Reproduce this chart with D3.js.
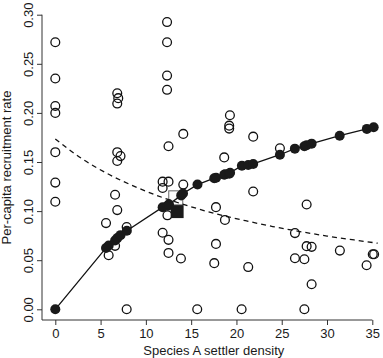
<!DOCTYPE html>
<html>
<head>
<meta charset="utf-8">
<script src="https://cdn.jsdelivr.net/npm/d3@7"></script>
<style>
  body { margin: 0; background: #fff; }
  svg text { font-family: "Liberation Sans", Arial, sans-serif; fill: #1a1a1a; }
</style>
</head>
<body>
<div id="chart"></div>
<script>
let w = 383; let h = 358;

// observed per-capita recruitment (open circles)
let obsX = [0, 0, 0, 0, 0, 0, 0,
  5.6, 5.89, 6.6, 6.6, 6.84, 6.84, 6.84, 6.84, 6.84, 6.95, 7.2, 7.88, 7.88,
  11.85, 11.85, 11.85, 12.34, 12.34, 12.34, 12.34, 12.38, 12.5, 12.5, 12.5, 12.5,
  13.87, 14.13, 14.13, 15.67, 17.55, 17.74, 17.74, 18.65, 18.73, 19.2, 19.2, 19.28,
  20.57, 21.3, 21.85, 21.85, 24.8, 26.46, 26.46, 27.5, 27.5, 27.75, 27.75,
  28.3, 28.3, 31.42, 34.37, 35.05, 35.2];
let obsY = [0.272, 0.235, 0.207, 0.200, 0.160, 0.129, 0.1095,
  0.0878, 0.055, 0.1166, 0.0646, 0.220, 0.2095, 0.160, 0.151, 0.101, 0.215, 0.156, 0.0837, 0.0,
  0.130, 0.1235, 0.078, 0.2925, 0.272, 0.238, 0.2235, 0.0957, 0.166, 0.130, 0.0707, 0.0574,
  0.0517, 0.1786, 0.127, 0.0, 0.047, 0.104, 0.0666, 0.1547, 0.091, 0.187, 0.184, 0.1976,
  0.0, 0.043, 0.1758, 0.120, 0.164, 0.0776, 0.052, 0.051, 0.0, 0.1067, 0.0643,
  0.0636, 0.0255, 0.0598, 0.0449, 0.0561, 0.0561];

// fitted values (filled points, joined by the solid line)
let fitX = [0, 5.6, 5.9, 6.6, 6.85, 7.2, 7.9, 11.85, 12.4, 12.55, 13.9, 14.1, 15.7,
  17.55, 17.75, 18.65, 18.75, 19.2, 19.3, 20.6, 21.3, 21.85, 24.8, 26.45, 27.5, 27.75,
  28.3, 31.4, 34.4, 35.15];
let fitY = [0, 0.0625, 0.065, 0.070, 0.0725, 0.0755, 0.080, 0.104, 0.1055, 0.107, 0.116, 0.118, 0.127,
  0.1335, 0.134, 0.137, 0.1375, 0.138, 0.139, 0.1462, 0.147, 0.148, 0.1574, 0.1636, 0.166, 0.167,
  0.1687, 0.1768, 0.1837, 0.1853];

// dashed curve
let dashX = [0, 3, 6, 9, 12, 15, 18, 21, 24, 27, 30, 33, 35.6];
let dashY = [0.1735, 0.153, 0.137, 0.1241, 0.1133, 0.1044, 0.0966, 0.0902, 0.0843, 0.0792, 0.0746, 0.0706, 0.0673];

// squares: open (upper) and filled (lower)
let openSq = [13.3, 0.1135];
let fillSq = [13.45, 0.0995];

let xTicks = [0, 5, 10, 15, 20, 25, 30, 35];
let yTicks = [0, 0.05, 0.10, 0.15, 0.20, 0.25, 0.30];
let yTickLabels = ["0.00", "0.05", "0.10", "0.15", "0.20", "0.25", "0.30"];

let graph = d3.select("#chart").append("svg").attr("width", w).attr("height", h);

let xScale = d3.scaleLinear().domain([0, 35]).range([55.3, 372.3]);
let yScale = d3.scaleLinear().domain([0, 0.30]).range([309.3, 14.7]);

let axX = 42; let axY = 320;

// L shaped frame
graph.append("path")
  .attr("d", "M" + axX + "," + yScale.range()[1] + "V" + axY + "H" + xScale.range()[1])
  .attr("fill", "none").attr("stroke", "#333").attr("stroke-width", 1);

// y axis
let ya = graph.append("g").attr("transform", "translate(" + axX + ",0)")
  .call(d3.axisLeft(yScale).tickValues(yTicks).tickSize(5).tickSizeOuter(0)
    .tickFormat((d, i) => yTickLabels[i]));
ya.select(".domain").remove();
ya.selectAll("line").attr("stroke", "#333");
ya.selectAll("text")
  .attr("transform", "rotate(-90)")
  .attr("x", 0).attr("y", -9).attr("dy", 0)
  .attr("text-anchor", "middle")
  .attr("font-size", 13);

// x axis
let xa = graph.append("g").attr("transform", "translate(0," + axY + ")")
  .call(d3.axisBottom(xScale).tickValues(xTicks).tickSize(5).tickSizeOuter(0));
xa.select(".domain").remove();
xa.selectAll("line").attr("stroke", "#333");
xa.selectAll("text").attr("y", 9).attr("dy", "0.71em").attr("font-size", 13);

// axis titles
graph.append("text")
  .attr("transform", "translate(11,167.5) rotate(-90)")
  .attr("text-anchor", "middle").attr("font-size", 13)
  .text("Per-capita recruitment rate");

graph.append("text")
  .attr("x", (xScale(0) + xScale(35)) / 2).attr("y", 355)
  .attr("text-anchor", "middle").attr("font-size", 13)
  .text("Species A settler density");

// open square (mostly hidden behind the fitted points)
let sq = 14;
graph.append("rect")
  .attr("x", xScale(openSq[0]) - sq / 2).attr("y", yScale(openSq[1]) - sq / 2)
  .attr("width", sq).attr("height", sq)
  .attr("fill", "none").attr("stroke", "#666").attr("stroke-width", 1);

// open circles
graph.append("g").selectAll("circle")
  .data(obsX.map((d, i) => [d, obsY[i]]))
  .enter().append("circle")
  .attr("cx", d => xScale(d[0]))
  .attr("cy", d => yScale(d[1]))
  .attr("r", 4.4)
  .attr("fill", "none").attr("stroke", "#111").attr("stroke-width", 1.3);

// dashed curve
let dashLine = d3.line().x(d => xScale(d[0])).y(d => yScale(d[1])).curve(d3.curveMonotoneX);
graph.append("path")
  .attr("d", dashLine(dashX.map((d, i) => [d, dashY[i]])))
  .attr("fill", "none").attr("stroke", "#111").attr("stroke-width", 1.3)
  .attr("stroke-dasharray", "5,4");

// solid fitted line
let fitLine = d3.line().x(d => xScale(d[0])).y(d => yScale(d[1]));
graph.append("path")
  .attr("d", fitLine(fitX.map((d, i) => [d, fitY[i]])))
  .attr("fill", "none").attr("stroke", "#111").attr("stroke-width", 1.3);

// filled circles
graph.append("g").selectAll("circle")
  .data(fitX.map((d, i) => [d, fitY[i]]))
  .enter().append("circle")
  .attr("cx", d => xScale(d[0]))
  .attr("cy", d => yScale(d[1]))
  .attr("r", 5)
  .attr("fill", "#1a1a1a");

// filled square
let fs = 13;
graph.append("rect")
  .attr("x", xScale(fillSq[0]) - fs / 2).attr("y", yScale(fillSq[1]) - fs / 2)
  .attr("width", fs).attr("height", fs)
  .attr("fill", "#1a1a1a");
</script>
</body>
</html>
